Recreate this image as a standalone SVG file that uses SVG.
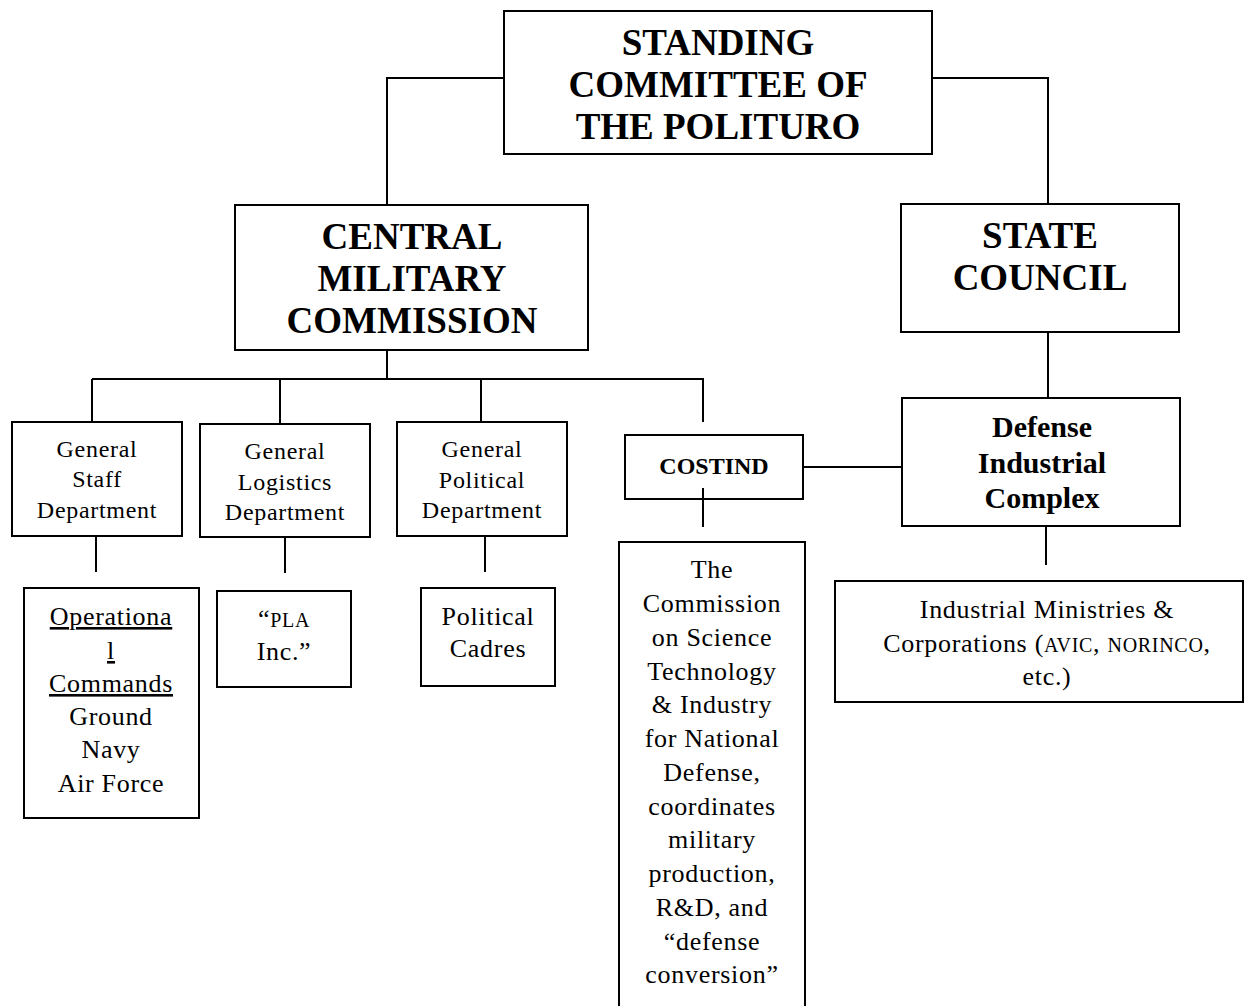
<svg xmlns="http://www.w3.org/2000/svg" width="1245" height="1006" viewBox="0 0 1245 1006">
<style>
.box{fill:#fff;stroke:#000;stroke-width:2}
.ln{fill:none;stroke:#000;stroke-width:2}
text{font-family:"Liberation Serif","Times New Roman",serif;fill:#000;text-anchor:middle}
.t{font-size:37px;font-weight:bold}
.b{font-weight:bold}
.r{font-size:26px;letter-spacing:0.7px}
.d{font-size:24px;letter-spacing:0.7px}
.sc{font-size:20px}
.u{text-decoration:underline}
</style>
<rect width="1245" height="1006" fill="#fff"/>
<g id="connectors">
<polyline class="ln" points="504,78 387,78 387,205"/>
<polyline class="ln" points="932,78 1048,78 1048,204"/>
<line class="ln" x1="387" y1="350" x2="387" y2="379"/>
<line class="ln" x1="92" y1="379" x2="704" y2="379"/>
<line class="ln" x1="92" y1="379" x2="92" y2="422"/>
<line class="ln" x1="280" y1="379" x2="280" y2="424"/>
<line class="ln" x1="481" y1="379" x2="481" y2="422"/>
<line class="ln" x1="703" y1="379" x2="703" y2="422"/>
<line class="ln" x1="96" y1="536" x2="96" y2="572"/>
<line class="ln" x1="285" y1="537" x2="285" y2="573"/>
<line class="ln" x1="485" y1="536" x2="485" y2="572"/>
<line class="ln" x1="1048" y1="332" x2="1048" y2="398"/>
<line class="ln" x1="803" y1="467" x2="902" y2="467"/>
<line class="ln" x1="1046" y1="526" x2="1046" y2="565"/>
</g>
<g id="standing-committee">
<rect class="box" x="504" y="11" width="428" height="143"/>
<text class="t" x="718" y="55">STANDING</text>
<text class="t" x="718" y="97">COMMITTEE OF</text>
<text class="t" x="718" y="139">THE POLITURO</text>
</g>
<g id="cmc">
<rect class="box" x="235" y="205" width="353" height="145"/>
<text class="t" x="412" y="249">CENTRAL</text>
<text class="t" x="412" y="291">MILITARY</text>
<text class="t" x="412" y="333">COMMISSION</text>
</g>
<g id="state-council">
<rect class="box" x="901" y="204" width="278" height="128"/>
<text class="t" x="1040" y="248">STATE</text>
<text class="t" x="1040" y="290">COUNCIL</text>
</g>
<g id="defense-industrial">
<rect class="box" x="902" y="398" width="278" height="128"/>
<text class="b" font-size="30" x="1042" y="437">Defense</text>
<text class="b" font-size="30" x="1042" y="473">Industrial</text>
<text class="b" font-size="30" x="1042" y="508">Complex</text>
</g>
<g id="costind">
<rect class="box" x="625" y="435" width="178" height="64"/>
<text class="b" font-size="24" x="714" y="474">COSTIND</text>
</g>
<line class="ln" x1="703" y1="488" x2="703" y2="527"/>
<g id="general-staff">
<rect class="box" x="12" y="422" width="170" height="114"/>
<text class="d" x="97" y="457">General</text>
<text class="d" x="97" y="487">Staff</text>
<text class="d" x="97" y="518">Department</text>
</g>
<g id="general-logistics">
<rect class="box" x="200" y="424" width="170" height="113"/>
<text class="d" x="285" y="459">General</text>
<text class="d" x="285" y="490">Logistics</text>
<text class="d" x="285" y="520">Department</text>
</g>
<g id="general-political">
<rect class="box" x="397" y="422" width="170" height="114"/>
<text class="d" x="482" y="457">General</text>
<text class="d" x="482" y="488">Political</text>
<text class="d" x="482" y="518">Department</text>
</g>
<g id="operational-commands">
<rect class="box" x="24" y="588" width="175" height="230"/>
<text class="r u" font-size="27" x="111" y="625">Operationa</text>
<text class="r u" font-size="27" x="111" y="659">l</text>
<text class="r u" font-size="27" x="111" y="692">Commands</text>
<text class="r" font-size="27" x="111" y="725">Ground</text>
<text class="r" font-size="27" x="111" y="758">Navy</text>
<text class="r" font-size="27" x="111" y="792">Air Force</text>
</g>
<g id="pla-inc">
<rect class="box" x="217" y="591" width="134" height="96"/>
<text class="r" x="284" y="627">“<tspan class="sc">PLA</tspan></text>
<text class="r" x="284" y="660">Inc.”</text>
</g>
<g id="political-cadres">
<rect class="box" x="421" y="588" width="134" height="98"/>
<text class="r" x="488" y="625">Political</text>
<text class="r" x="488" y="657">Cadres</text>
</g>
<g id="commission-science">
<rect class="box" x="619" y="542" width="186" height="480"/>
<text class="r" x="712" y="578">The</text>
<text class="r" x="712" y="612">Commission</text>
<text class="r" x="712" y="646">on Science</text>
<text class="r" x="712" y="680">Technology</text>
<text class="r" x="712" y="713">&amp; Industry</text>
<text class="r" x="712" y="747">for National</text>
<text class="r" x="712" y="781">Defense,</text>
<text class="r" x="712" y="815">coordinates</text>
<text class="r" x="712" y="848">military</text>
<text class="r" x="712" y="882">production,</text>
<text class="r" x="712" y="916">R&amp;D, and</text>
<text class="r" x="712" y="950">“defense</text>
<text class="r" x="712" y="983">conversion”</text>
</g>
<g id="industrial-ministries">
<rect class="box" x="835" y="581" width="408" height="121"/>
<text class="r" x="1047" y="618">Industrial Ministries &amp;</text>
<text class="r" x="1047" y="652">Corporations (<tspan class="sc">AVIC</tspan>, <tspan class="sc">NORINCO</tspan>,</text>
<text class="r" x="1047" y="685">etc.)</text>
</g>
</svg>
